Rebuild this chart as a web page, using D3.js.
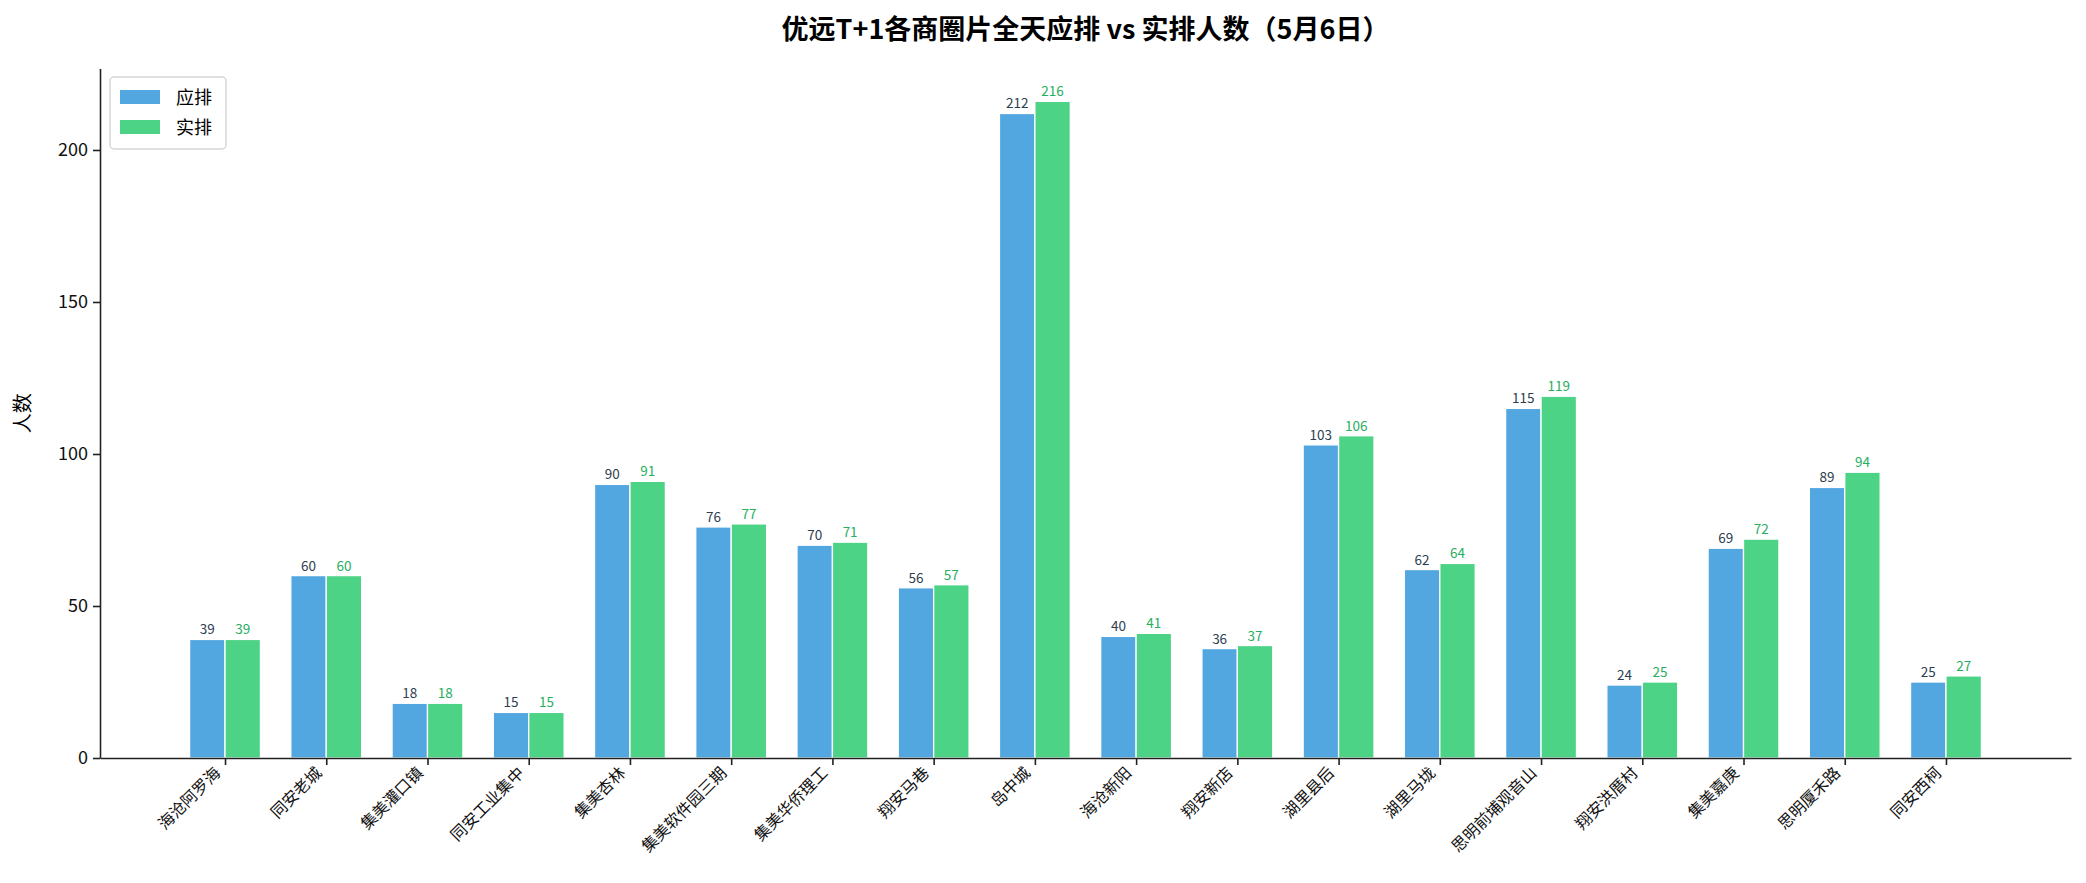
<!DOCTYPE html>
<html>
<head>
<meta charset="utf-8">
<script src="https://cdn.jsdelivr.net/npm/d3@7"></script>
<style>
  html, body { margin: 0; padding: 0; background: #fff; }
  svg text { font-family: "Noto Sans CJK SC", "Noto Sans", sans-serif; }
</style>
</head>
<body>
<svg id="chart" width="2086" height="883"></svg>
<script>
// data
var areas = ['海沧阿罗海', '同安老城', '集美灌口镇', '同安工业集中', '集美杏林', '集美软件园三期',
    '集美华侨理工', '翔安马巷', '岛中城', '海沧新阳', '翔安新店', '湖里县后', '湖里马垅',
    '思明前埔观音山', '翔安洪厝村', '集美嘉庚', '思明厦禾路', '同安西柯'];
var planned = [39, 60, 18, 15, 90, 76, 70, 56, 212, 40, 36, 103, 62, 115, 24, 69, 89, 25];
var actual = [39, 60, 18, 15, 91, 77, 71, 57, 216, 41, 37, 106, 64, 119, 25, 72, 94, 27];
var yTicks = [0, 50, 100, 150, 200];
var seriesNames = ['应排', '实排'];

var blue = '#52a7e0', green = '#4dd386';
var barW = 0.35;

var svg = d3.select('#chart');
// plot box (note: "top" is reserved on window, so use other names)
var plotL = 100, plotR = 2071, plotT = 68.5, plotB = 758;

// matplotlib-style margins around the bars
var n = areas.length;
var pad = 0.05 * ((n - 1 + barW) - (-barW));
var x = d3.scaleLinear().domain([-barW - pad, n - 1 + barW + pad]).range([plotL, plotR]);
var yMax = d3.max(planned.concat(actual)) * 1.05;
var y = d3.scaleLinear().domain([0, yMax]).range([plotB, plotT]);

// title
svg.append('text')
    .attr('x', (plotL + plotR) / 2).attr('y', 39)
    .attr('text-anchor', 'middle')
    .style('font-size', '27px').style('font-weight', 'bold')
    .text('优远T+1各商圈片全天应排 vs 实排人数（5月6日）');

// bars
var groups = [
    { name: seriesNames[0], vals: planned, color: blue, off: -barW, label: '#2c3e50' },
    { name: seriesNames[1], vals: actual, color: green, off: 0, label: '#27ae60' }
];

groups.forEach(function(g) {
    svg.append('g').selectAll('rect')
        .data(g.vals).enter().append('rect')
        .attr('x', function(d, i) { return x(i + g.off); })
        .attr('y', function(d) { return y(d); })
        .attr('width', x(barW) - x(0))
        .attr('height', function(d) { return y(0) - y(d); })
        .attr('fill', g.color)
        .attr('stroke', '#fff').attr('stroke-width', 1.3);

    svg.append('g').selectAll('text')
        .data(g.vals).enter().append('text')
        .attr('x', function(d, i) { return x(i + g.off + barW / 2); })
        .attr('y', function(d) { return y(d) - 5; })
        .attr('text-anchor', 'middle')
        .style('font-size', '13.5px')
        .attr('fill', g.label)
        .text(function(d) { return d; });
});

// y axis
var yAxis = svg.append('g')
    .attr('transform', 'translate(' + plotL + ',0)')
    .call(d3.axisLeft(y).tickValues(yTicks).tickSizeInner(7).tickSizeOuter(0).tickPadding(5));
yAxis.selectAll('text').style('font-size', '18px').attr('fill', '#111');

// x axis
var xAxis = svg.append('g')
    .attr('transform', 'translate(0,' + plotB + ')')
    .call(d3.axisBottom(x).tickValues(d3.range(n)).tickSizeInner(7).tickSizeOuter(0)
        .tickFormat(function(i) { return areas[i]; }));
xAxis.selectAll('text')
    .style('font-size', '16px').attr('fill', '#111')
    .attr('text-anchor', 'end')
    .attr('dy', null).attr('y', 0)
    .attr('transform', 'translate(-4,16) rotate(-45)');

[yAxis, xAxis].forEach(function(a) {
    a.select('.domain').attr('stroke', '#222').attr('stroke-width', 1.6);
    a.selectAll('.tick line').attr('stroke', '#222').attr('stroke-width', 1.6);
});

// y label
svg.append('text')
    .attr('transform', 'translate(30,' + ((plotT + plotB) / 2) + ') rotate(-90)')
    .attr('text-anchor', 'middle')
    .style('font-size', '20px')
    .text('人数');

// legend
var leg = svg.append('g').attr('transform', 'translate(110,77)');
leg.append('rect')
    .attr('width', 116).attr('height', 72).attr('rx', 4)
    .attr('fill', '#fff').attr('stroke', '#d6d6d6').attr('stroke-width', 1.5);
groups.forEach(function(g, k) {
    leg.append('rect')
        .attr('x', 10).attr('y', 13 + k * 30)
        .attr('width', 40).attr('height', 14)
        .attr('fill', g.color);
    leg.append('text')
        .attr('x', 66).attr('y', 27 + k * 30)
        .style('font-size', '18px')
        .text(g.name);
});
</script>
</body>
</html>
